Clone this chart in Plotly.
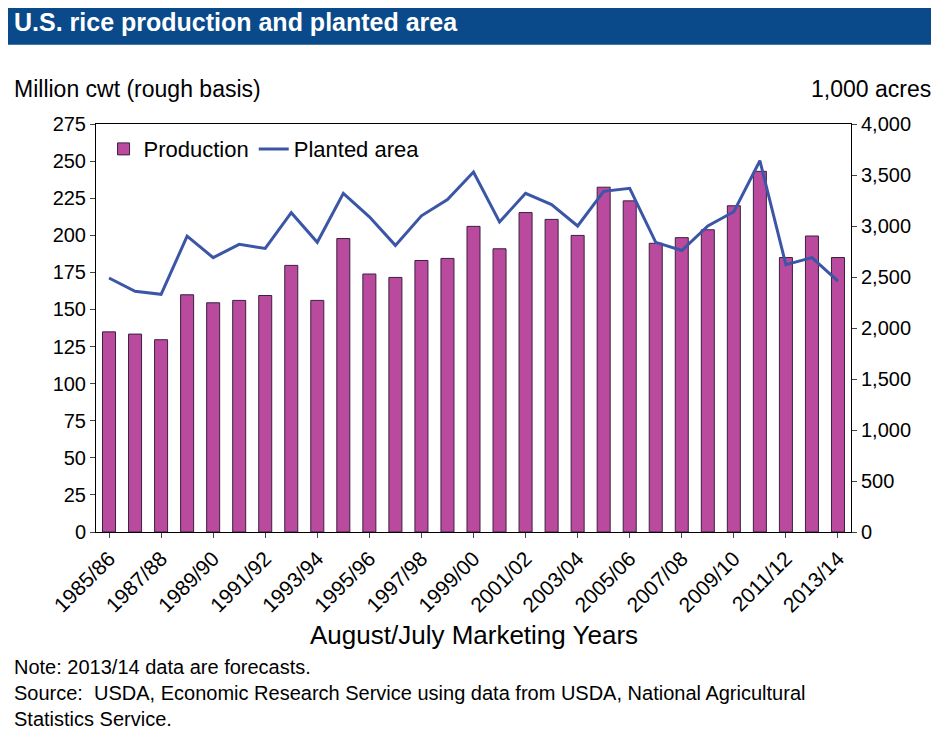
import plotly.graph_objects as go

years = [f"{y}/{str(y+1)[-2:]}" for y in range(1985, 2014)]
production = [134.9, 133.4, 129.6, 159.9, 154.5, 156.1, 159.4, 179.7, 156.1, 197.8,
              173.9, 171.6, 183.0, 184.4, 206.0, 190.9, 215.3, 210.7, 199.9, 232.4,
              223.2, 194.6, 198.4, 203.7, 219.9, 243.1, 185.0, 199.5, 185.0]
planted = [2490, 2360, 2330, 2900, 2690, 2820, 2780, 3130, 2840, 3320,
           3090, 2810, 3100, 3260, 3530, 3040, 3320, 3210, 3000, 3340,
           3370, 2840, 2760, 3000, 3140, 3640, 2620, 2690, 2460]
left_ticks = list(range(0, 276, 25))
right_ticks = list(range(0, 4001, 500))

fig = go.Figure()
fig.add_bar(x=years, y=production, name="Production", marker=dict(color="#b94a9e", line=dict(color="#3a2040", width=1)), width=0.5)
fig.add_scatter(x=years, y=planted, name="Planted area", yaxis="y2", mode="lines", line=dict(color="#3b56a6", width=3))

F = "Liberation Sans, Arial, sans-serif"
fig.update_layout(
    width=939, height=729, paper_bgcolor="white", plot_bgcolor="white",
    margin=dict(l=88, r=96, t=116, b=205),
    font=dict(family=F, size=20, color="black"),
    showlegend=True,
    legend=dict(x=0.01, y=0.99, orientation="h", bgcolor="rgba(0,0,0,0)", font=dict(size=22)),
    xaxis=dict(type="category", tickvals=years[::2], ticktext=years[::2], tickangle=-45,
               showline=True, linecolor="black", mirror=True, ticks="outside", tickfont=dict(size=21)),
    yaxis=dict(range=[0, 275], tickvals=left_ticks, showgrid=False, showline=True, linecolor="black",
               ticks="outside", zeroline=False),
    yaxis2=dict(range=[0, 4000], tickvals=right_ticks, tickformat=",", overlaying="y", side="right",
                showgrid=False, showline=True, linecolor="black", ticks="outside", zeroline=False),
)
fig.add_shape(type="rect", xref="paper", yref="paper", x0=-0.14, x1=1.15, y0=1.194, y1=1.4,
              fillcolor="#0a4a8a", line=dict(width=0))
ann = [
    dict(text="<b>U.S. rice production and planted area</b>", x=-0.111, y=1.25, xanchor="left", yanchor="middle", font=dict(size=25, color="white")),
    dict(text="Million cwt (rough basis)", x=-0.111, y=1.05, xanchor="left", yanchor="bottom", font=dict(size=23)),
    dict(text="1,000 acres", x=1.109, y=1.05, xanchor="right", yanchor="bottom", font=dict(size=23)),
    dict(text="August/July Marketing Years", x=0.5, y=-0.21, xanchor="center", yanchor="top", font=dict(size=26)),
    dict(text="Note: 2013/14 data are forecasts.<br>Source:  USDA, Economic Research Service using data from USDA, National Agricultural<br>Statistics Service.",
         x=-0.111, y=-0.3, xanchor="left", yanchor="top", align="left", font=dict(size=20)),
]
for a in ann:
    a.update(xref="paper", yref="paper", showarrow=False)
fig.update_layout(annotations=ann)
fig.write_html("out.html")
